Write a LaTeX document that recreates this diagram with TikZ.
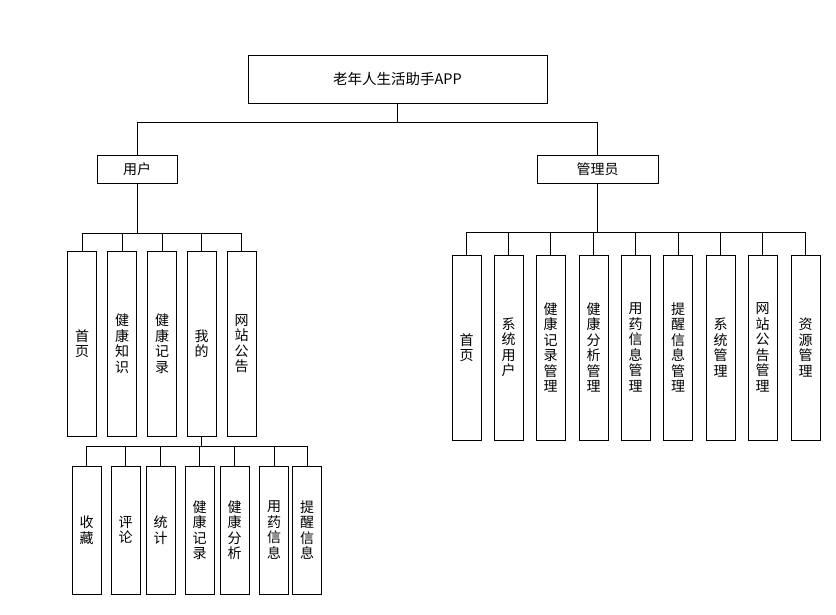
\documentclass[tikz,border=0pt]{standalone}
\usepackage{fontspec}
\newfontfamily\cjk{Noto Sans CJK SC}
\begin{document}
\begin{tikzpicture}[x=1pt,y=-1pt,
  box/.style={draw=black,line width=0.9pt,fill=white,inner sep=0pt,font=\cjk\fontsize{14}{15.5}\selectfont,align=center},
  vbox/.style={box,minimum width=29pt,minimum height=185pt},
  sbox/.style={box,minimum width=29pt,minimum height=128pt},
  conn/.style={draw=black,line width=0.9pt}]
\useasboundingbox (0,0) rectangle (836,615);
\node[box,minimum width=299pt,minimum height=48pt,font=\cjk\fontsize{14.5}{16}\selectfont] (root) at (397.5,79) {老年人生活助手APP};
\node[box,minimum width=80pt,minimum height=28pt] (user) at (137,169) {用户};
\node[box,minimum width=121pt,minimum height=28pt] (admin) at (597.5,169) {管理员};
\coordinate (b1) at (397.5,122);
\draw[conn] (root.south) -- (b1);
\draw[conn] (user.north) |- (b1);
\draw[conn] (admin.north) |- (b1);
% user children
\node[vbox] (u1) at (82,343.5) {首\\页};
\node[vbox] (u2) at (122,343.5) {健\\康\\知\\识};
\node[vbox] (u3) at (162,343.5) {健\\康\\记\\录};
\node[vbox] (u4) at (201.5,343.5) {我\\的};
\node[vbox] (u5) at (241.5,343.5) {网\\站\\公\\告};
\coordinate (b2) at (137,233);
\draw[conn] (user.south) -- (b2);
\foreach \n in {u1,u2,u3,u4,u5} \draw[conn] (\n.north) |- (b2);
% my children
\node[sbox] (m1) at (86.5,530) {收\\藏};
\node[sbox] (m2) at (125.5,530) {评\\论};
\node[sbox] (m3) at (160.5,530) {统\\计};
\node[sbox] (m4) at (199.5,530) {健\\康\\记\\录};
\node[sbox] (m5) at (234.5,530) {健\\康\\分\\析};
\node[sbox] (m6) at (274,530) {用\\药\\信\\息};
\node[sbox] (m7) at (307,530) {提\\醒\\信\\息};
\coordinate (b3) at (201.5,446);
\draw[conn] (u4.south) -- (b3);
\foreach \n in {m1,m2,m3,m4,m5,m6,m7} \draw[conn] (\n.north) |- (b3);
% admin children
\node[vbox] (a1) at (466.5,347.5) {首\\页};
\node[vbox] (a2) at (508.5,347.5) {系\\统\\用\\户};
\node[vbox] (a3) at (550.5,347.5) {健\\康\\记\\录\\管\\理};
\node[vbox] (a4) at (593.5,347.5) {健\\康\\分\\析\\管\\理};
\node[vbox] (a5) at (635.5,347.5) {用\\药\\信\\息\\管\\理};
\node[vbox] (a6) at (678,347.5) {提\\醒\\信\\息\\管\\理};
\node[vbox] (a7) at (720.5,347.5) {系\\统\\管\\理};
\node[vbox] (a8) at (762.5,347.5) {网\\站\\公\\告\\管\\理};
\node[vbox] (a9) at (805.5,347.5) {资\\源\\管\\理};
\coordinate (b4) at (597.5,232);
\draw[conn] (admin.south) -- (b4);
\foreach \n in {a1,a2,a3,a4,a5,a6,a7,a8,a9} \draw[conn] (\n.north) |- (b4);
\end{tikzpicture}
\end{document}
